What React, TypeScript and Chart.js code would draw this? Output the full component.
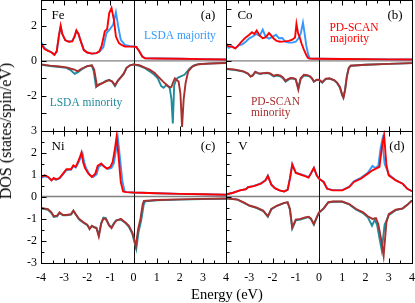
import React, { useEffect, useRef } from "react";
import { Chart, registerables } from "chart.js";

Chart.register(...registerables);

const SERIF = '"Liberation Serif", "Times New Roman", Times, serif';
const BLUE = "#3399ff";
const RED = "#ff0000";
const TEAL = "#1f8b9c";
const BROWN = "#a8302f";

// ---------- Fe (a) ----------
const feUpLsdaE = [-4, -3.85, -3.7, -3.55, -3.42, -3.32, -3.22, -3.15, -3.08, -2.95, -2.8, -2.65, -2.55, -2.47, -2.38, -2.28, -2.15, -2.0, -1.8, -1.6, -1.45, -1.3, -1.17, -1.02, -0.88, -0.76, -0.66, -0.55, -0.37, -0.15, 0, 0.12, 0.25, 0.38, 0.5, 1, 2, 3, 4];
const feUpLsda = [1.08, 0.75, 0.6, 0.5, 0.35, 0.55, 1.5, 1.98, 1.55, 1.2, 1.12, 1.15, 1.4, 1.72, 1.55, 1.15, 0.65, 0.48, 0.42, 0.45, 0.55, 0.8, 1.6, 1.83, 2.08, 2.8, 1.98, 1.21, 0.92, 0.85, 0.83, 0.8, 0.55, 0.25, 0.15, 0.14, 0.12, 0.1, 0.08];
const feUpScanE = [-4, -3.85, -3.7, -3.55, -3.42, -3.32, -3.22, -3.15, -3.08, -2.95, -2.8, -2.65, -2.55, -2.47, -2.38, -2.28, -2.15, -2.0, -1.8, -1.6, -1.48, -1.38, -1.24, -1.14, -1.05, -0.95, -0.85, -0.76, -0.63, -0.5, -0.37, -0.15, 0, 0.12, 0.25, 0.38, 0.5, 1, 2, 3, 4];
const feUpScan = [0.98, 0.68, 0.58, 0.5, 0.35, 0.55, 1.5, 2.02, 1.55, 1.18, 1.1, 1.12, 1.4, 1.75, 1.55, 1.12, 0.62, 0.48, 0.42, 0.45, 0.55, 0.85, 1.7, 1.83, 2.75, 3.04, 2.37, 1.4, 1.02, 0.9, 0.83, 0.82, 0.82, 0.8, 0.55, 0.25, 0.15, 0.14, 0.12, 0.1, 0.08];
const feDnLsdaE = [-4, -3.6, -3.2, -2.9, -2.7, -2.54, -2.4, -2.2, -2.0, -1.8, -1.72, -1.62, -1.5, -1.35, -1.2, -1.05, -0.92, -0.8, -0.68, -0.55, -0.42, -0.3, -0.15, 0, 0.25, 0.5, 0.7, 0.9, 1.05, 1.2, 1.3, 1.43, 1.57, 1.64, 1.7, 1.76, 1.85, 1.95, 2.2, 2.44, 2.65, 3.0, 3.5, 4];
const feDnLsda = [-0.22, -0.3, -0.35, -0.4, -0.55, -0.75, -0.65, -0.45, -0.3, -0.27, -0.6, -1.5, -1.35, -1.28, -1.15, -1.1, -1.2, -1.45, -1.15, -0.95, -0.75, -0.4, -0.25, -0.2, -0.28, -0.42, -0.6, -0.8, -1.0, -1.45, -1.55, -1.38, -1.58, -2.2, -3.6, -1.4, -1.05, -0.94, -0.8, -0.42, -0.23, -0.17, -0.14, -0.11];
const feDnScanE = [-4, -3.6, -3.2, -2.9, -2.7, -2.55, -2.42, -2.25, -2.0, -1.8, -1.7, -1.58, -1.45, -1.3, -1.15, -1.05, -0.92, -0.8, -0.68, -0.55, -0.42, -0.3, -0.15, 0, 0.25, 0.49, 0.7, 0.92, 1.1, 1.28, 1.45, 1.57, 1.64, 1.72, 1.79, 1.87, 1.95, 2.03, 2.1, 2.17, 2.25, 2.36, 2.54, 2.8, 3.3, 4];
const feDnScan = [-0.2, -0.27, -0.32, -0.37, -0.45, -0.5, -0.6, -0.45, -0.3, -0.25, -0.5, -1.45, -1.35, -1.25, -1.15, -1.1, -1.18, -1.4, -1.15, -0.95, -0.72, -0.4, -0.25, -0.2, -0.25, -0.38, -0.5, -0.7, -0.95, -1.19, -1.4, -1.52, -1.5, -1.2, -1.0, -1.1, -1.19, -1.9, -3.8, -2.2, -1.3, -0.62, -0.33, -0.19, -0.15, -0.12];

// ---------- Co (b) ----------
const coUpLsdaE = [-4, -3.88, -3.75, -3.6, -3.45, -3.3, -3.15, -3.0, -2.85, -2.7, -2.55, -2.42, -2.3, -2.15, -2.0, -1.85, -1.72, -1.58, -1.45, -1.3, -1.15, -1.0, -0.88, -0.78, -0.69, -0.62, -0.55, -0.47, -0.4, -0.3, 0, 1, 2, 3, 4];
const coUpLsda = [0.95, 0.75, 0.85, 0.72, 0.9, 0.95, 1.1, 1.3, 1.4, 1.55, 1.45, 1.8, 1.4, 1.28, 1.38, 1.5, 1.3, 1.32, 1.1, 1.05, 1.05, 1.1, 1.3, 1.6, 2.2, 1.6, 0.9, 0.4, 0.15, 0.12, 0.12, 0.11, 0.1, 0.09, 0.08];
const coUpScanE = [-4, -3.9, -3.75, -3.6, -3.45, -3.3, -3.15, -3.0, -2.88, -2.78, -2.68, -2.55, -2.42, -2.3, -2.15, -2.05, -1.95, -1.82, -1.68, -1.5, -1.3, -1.15, -1.03, -0.97, -0.9, -0.83, -0.75, -0.65, -0.55, -0.48, -0.42, 0, 1, 2, 3, 4];
const coUpScan = [1.0, 0.85, 0.82, 0.72, 0.92, 1.15, 1.35, 1.5, 1.65, 1.55, 1.75, 1.45, 1.3, 1.35, 1.6, 1.45, 1.28, 1.15, 1.1, 1.12, 1.15, 1.22, 1.35, 2.13, 1.6, 1.35, 1.0, 0.65, 0.35, 0.18, 0.13, 0.12, 0.11, 0.1, 0.09, 0.08];
const coDnE = [-4, -3.6, -3.25, -3.05, -2.95, -2.85, -2.74, -2.62, -2.52, -2.4, -2.23, -2.1, -1.95, -1.8, -1.66, -1.55, -1.44, -1.33, -1.22, -1.1, -1.0, -0.89, -0.79, -0.65, -0.5, -0.39, -0.3, -0.22, -0.1, 0, 0.14, 0.29, 0.45, 0.65, 0.78, 0.9, 1.0, 1.05, 1.12, 1.2, 1.28, 1.36, 2, 3, 4];
const coDnLsda = [-0.47, -0.52, -0.62, -0.75, -0.88, -0.82, -0.65, -0.72, -0.75, -0.72, -0.7, -0.75, -0.9, -0.85, -0.88, -1.0, -1.2, -1.1, -1.0, -1.02, -1.08, -1.55, -1.05, -0.85, -0.85, -0.9, -1.02, -1.2, -1.1, -1.1, -1.25, -1.05, -1.02, -1.12, -1.28, -1.55, -1.98, -2.1, -1.65, -0.85, -0.4, -0.28, -0.22, -0.17, -0.13];
const coDnScan = [-0.45, -0.5, -0.6, -0.72, -0.9, -0.85, -0.62, -0.7, -0.72, -0.7, -0.68, -0.72, -0.85, -0.8, -0.85, -0.95, -1.15, -1.05, -0.98, -1.0, -1.05, -1.65, -1.0, -0.8, -0.82, -0.88, -1.0, -1.18, -1.08, -1.08, -1.22, -1.02, -1.0, -1.1, -1.25, -1.5, -1.95, -2.12, -1.7, -0.9, -0.42, -0.28, -0.22, -0.17, -0.13];

// ---------- Ni (c) ----------
const niUpLsdaE = [-4, -3.85, -3.7, -3.55, -3.45, -3.35, -3.2, -3.05, -2.9, -2.7, -2.6, -2.5, -2.4, -2.27, -2.2, -2.13, -2.05, -1.9, -1.75, -1.6, -1.5, -1.35, -1.25, -1.1, -0.95, -0.85, -0.75, -0.68, -0.6, -0.48, -0.38, -0.3, 0, 1, 2, 3, 4];
const niUpLsda = [0.85, 0.92, 0.88, 0.75, 0.8, 0.76, 0.82, 1.0, 1.2, 1.22, 1.38, 1.32, 1.5, 1.8, 1.95, 1.55, 1.28, 1.0, 0.88, 1.0, 1.35, 1.45, 1.35, 1.25, 1.3, 1.5, 2.15, 2.7, 1.9, 0.7, 0.22, 0.2, 0.18, 0.15, 0.12, 0.1, 0.08];
const niUpScanE = [-4, -3.85, -3.7, -3.55, -3.45, -3.35, -3.2, -3.05, -2.9, -2.7, -2.6, -2.5, -2.4, -2.3, -2.25, -2.18, -2.1, -1.95, -1.8, -1.65, -1.55, -1.4, -1.3, -1.15, -1.0, -0.9, -0.8, -0.73, -0.65, -0.55, -0.45, -0.3, 0, 1, 2, 3, 4];
const niUpScan = [0.89, 0.96, 0.9, 0.73, 0.84, 0.78, 0.84, 1.04, 1.24, 1.24, 1.42, 1.35, 1.57, 1.85, 2.0, 1.57, 1.3, 1.04, 0.89, 1.04, 1.39, 1.5, 1.39, 1.27, 1.35, 1.57, 2.19, 2.72, 1.88, 0.66, 0.23, 0.2, 0.18, 0.15, 0.12, 0.1, 0.08];
const niDnLsdaE = [-4, -3.7, -3.55, -3.45, -3.3, -3.2, -3.05, -2.9, -2.7, -2.6, -2.5, -2.35, -2.15, -2.0, -1.9, -1.8, -1.7, -1.6, -1.5, -1.4, -1.3, -1.2, -1.05, -0.95, -0.85, -0.75, -0.55, -0.35, -0.2, -0.05, 0.12, 0.22, 0.33, 0.44, 0.5, 1, 2, 3, 4];
const niDnLsda = [-0.54, -0.6, -0.75, -0.93, -0.9, -0.75, -0.86, -0.86, -0.82, -0.67, -0.82, -1.05, -1.2, -1.3, -1.45, -1.35, -1.38, -1.42, -1.75, -1.22, -0.96, -0.98, -1.3, -1.4, -1.22, -1.08, -1.05, -1.2, -1.38, -1.7, -2.38, -1.6, -1.1, -0.38, -0.22, -0.17, -0.14, -0.12, -0.1];
const niDnScanE = [-4, -3.7, -3.55, -3.45, -3.3, -3.2, -3.05, -2.9, -2.7, -2.6, -2.5, -2.35, -2.15, -2.0, -1.9, -1.8, -1.7, -1.6, -1.5, -1.4, -1.3, -1.2, -1.05, -0.95, -0.85, -0.75, -0.55, -0.35, -0.2, -0.05, 0.1, 0.2, 0.3, 0.4, 0.45, 1, 2, 3, 4];
const niDnScan = [-0.52, -0.57, -0.72, -0.9, -0.87, -0.72, -0.84, -0.84, -0.8, -0.64, -0.8, -1.02, -1.18, -1.28, -1.48, -1.33, -1.4, -1.45, -1.82, -1.25, -1.0, -1.02, -1.33, -1.44, -1.25, -1.1, -1.02, -1.18, -1.33, -1.64, -2.25, -1.48, -1.02, -0.34, -0.2, -0.16, -0.13, -0.11, -0.09];

// ---------- V (d) ----------
const vUpLsdaE = [-4, -3.7, -3.4, -3.15, -3.05, -2.8, -2.5, -2.3, -2.2, -2.05, -1.9, -1.7, -1.5, -1.35, -1.25, -1.15, -1.0, -0.8, -0.6, -0.45, -0.35, -0.22, -0.1, 0, 0.2, 0.35, 0.6, 1.0, 1.3, 1.5, 1.8, 2.1, 2.3, 2.42, 2.55, 2.65, 2.72, 2.82, 3.0, 3.3, 3.6, 3.8, 4];
const vUpLsda = [0.09, 0.17, 0.28, 0.33, 0.43, 0.48, 0.6, 0.75, 0.95, 0.55, 0.38, 0.28, 0.23, 0.3, 0.83, 1.48, 1.1, 1.02, 0.95, 0.88, 1.05, 1.3, 0.97, 0.82, 0.66, 0.36, 0.29, 0.29, 0.45, 0.69, 0.85, 1.08, 1.39, 1.3, 1.4, 2.2, 2.57, 1.5, 1.0, 0.75, 0.58, 0.35, 0.24];
const vUpScanE = [-4, -3.7, -3.4, -3.15, -3.05, -2.8, -2.5, -2.3, -2.2, -2.05, -1.9, -1.7, -1.5, -1.35, -1.25, -1.15, -1.0, -0.8, -0.6, -0.45, -0.35, -0.22, -0.1, 0, 0.2, 0.35, 0.6, 1.0, 1.3, 1.5, 1.8, 2.1, 2.3, 2.45, 2.6, 2.7, 2.8, 2.9, 3.0, 3.3, 3.6, 3.8, 4];
const vUpScan = [0.09, 0.17, 0.28, 0.33, 0.42, 0.47, 0.58, 0.73, 0.93, 0.54, 0.38, 0.28, 0.23, 0.3, 0.81, 1.45, 1.07, 1.0, 0.93, 0.86, 1.04, 1.3, 0.96, 0.81, 0.66, 0.35, 0.28, 0.28, 0.43, 0.66, 0.81, 1.04, 1.19, 1.27, 1.35, 2.19, 2.8, 1.42, 0.96, 0.73, 0.58, 0.35, 0.24];
const vDnLsdaE = [-4, -3.5, -3.2, -3.0, -2.7, -2.4, -2.2, -2.05, -1.8, -1.5, -1.35, -1.25, -1.15, -1.0, -0.8, -0.6, -0.45, -0.35, -0.22, -0.1, 0, 0.2, 0.4, 0.6, 1.0, 1.3, 1.6, 1.9, 2.1, 2.28, 2.4, 2.5, 2.62, 2.7, 2.82, 3.0, 3.3, 3.6, 3.8, 4];
const vDnLsda = [-0.08, -0.14, -0.3, -0.42, -0.52, -0.66, -0.92, -0.58, -0.42, -0.3, -0.27, -0.6, -1.46, -1.08, -1.05, -0.98, -0.94, -1.02, -1.28, -0.97, -0.74, -0.55, -0.27, -0.24, -0.24, -0.36, -0.6, -0.76, -0.95, -1.33, -1.05, -1.3, -2.0, -2.45, -1.3, -0.85, -0.62, -0.55, -0.38, -0.18];
const vDnScanE = [-4, -3.5, -3.2, -3.0, -2.7, -2.4, -2.2, -2.05, -1.8, -1.5, -1.35, -1.25, -1.15, -1.0, -0.8, -0.6, -0.45, -0.35, -0.22, -0.1, 0, 0.2, 0.4, 0.6, 1.0, 1.3, 1.6, 1.9, 2.1, 2.3, 2.45, 2.55, 2.7, 2.78, 2.9, 3.0, 3.3, 3.6, 3.8, 4];
const vDnScan = [-0.08, -0.14, -0.29, -0.41, -0.5, -0.64, -0.9, -0.57, -0.41, -0.29, -0.26, -0.57, -1.41, -1.05, -1.02, -0.95, -0.92, -1.0, -1.25, -0.95, -0.72, -0.54, -0.26, -0.23, -0.23, -0.34, -0.57, -0.72, -0.9, -1.02, -0.98, -1.25, -2.1, -2.7, -1.18, -0.8, -0.6, -0.54, -0.38, -0.18];

// ---------- axis ranges and tick labels ----------
const energyRange = [-4, 4];
const topDosRange = [-4, 3.5];
const bottomDosRange = [-3, 3];
const topYLabels = [2, 0, -2];
const bottomYLabels = [3, 2, 1, 0, -1, -2, -3];
const leftXLabels = [-4, -3, -2, -1, 0, 1, 2, 3, 4];
const rightXLabels = [-3, -2, -1, 0, 1, 2, 3, 4];

const W = 415;
const H = 303;

type Series = { e: number[]; d: number[]; color: string };
type Note = { text: string; fx: number; fy: number; color: string; size: number; align: CanvasTextAlign };
type PanelDef = {
  id: string;
  left: number; top: number; right: number; bottom: number;
  yRange: number[];
  yLabels: number[] | null;
  xLabels: number[] | null;
  yTickStep: number;
  series: Series[]; // listed bottom-most first
  notes: Note[];
};

const tag = (text: string, fx: number, fy: number): Note => ({ text, fx, fy, color: "#000", size: 13, align: "center" });

const PANELS: PanelDef[] = [
  {
    id: "a", left: 41, top: 0, right: 226, bottom: 130.5, yRange: topDosRange, yLabels: topYLabels, xLabels: null, yTickStep: 1,
    series: [
      { e: feUpLsdaE, d: feUpLsda, color: BLUE },
      { e: feUpScanE, d: feUpScan, color: RED },
      { e: feDnLsdaE, d: feDnLsda, color: TEAL },
      { e: feDnScanE, d: feDnScan, color: BROWN },
    ],
    notes: [
      tag("Fe", 0.092, 0.119),
      tag("(a)", 0.903, 0.119),
      { text: "LSDA majority", fx: 0.751, fy: 0.272, color: BLUE, size: 11.5, align: "center" },
      { text: "LSDA minority", fx: 0.243, fy: 0.789, color: TEAL, size: 11.5, align: "center" },
    ],
  },
  {
    id: "b", left: 226, top: 0, right: 412, bottom: 130.5, yRange: topDosRange, yLabels: null, xLabels: null, yTickStep: 1,
    series: [
      { e: coUpLsdaE, d: coUpLsda, color: BLUE },
      { e: coUpScanE, d: coUpScan, color: RED },
      { e: coDnE, d: coDnLsda, color: TEAL },
      { e: coDnE, d: coDnScan, color: BROWN },
    ],
    notes: [
      tag("Co", 0.102, 0.119),
      tag("(b)", 0.909, 0.119),
      { text: "PD-SCAN", fx: 0.556, fy: 0.211, color: RED, size: 11.5, align: "left" },
      { text: "majority", fx: 0.559, fy: 0.299, color: RED, size: 11.5, align: "left" },
      { text: "PD-SCAN", fx: 0.134, fy: 0.778, color: BROWN, size: 11.5, align: "left" },
      { text: "minority", fx: 0.134, fy: 0.862, color: BROWN, size: 11.5, align: "left" },
    ],
  },
  {
    id: "c", left: 41, top: 130.5, right: 226, bottom: 262.5, yRange: bottomDosRange, yLabels: bottomYLabels, xLabels: leftXLabels, yTickStep: 0.5,
    series: [
      { e: niUpLsdaE, d: niUpLsda, color: BLUE },
      { e: niUpScanE, d: niUpScan, color: RED },
      { e: niDnLsdaE, d: niDnLsda, color: TEAL },
      { e: niDnScanE, d: niDnScan, color: BROWN },
    ],
    notes: [tag("Ni", 0.092, 0.121), tag("(c)", 0.903, 0.121)],
  },
  {
    id: "d", left: 226, top: 130.5, right: 412, bottom: 262.5, yRange: bottomDosRange, yLabels: null, xLabels: rightXLabels, yTickStep: 0.5,
    series: [
      { e: vUpLsdaE, d: vUpLsda, color: BLUE },
      { e: vUpScanE, d: vUpScan, color: RED },
      { e: vDnLsdaE, d: vDnLsda, color: TEAL },
      { e: vDnScanE, d: vDnScan, color: BROWN },
    ],
    notes: [tag("V", 0.091, 0.121), tag("(d)", 0.919, 0.121)],
  },
];

function panelPlugin(p: PanelDef) {
  return {
    id: "panel-" + p.id,
    beforeDatasetsDraw(chart: any) {
      const { ctx, chartArea: a, scales } = chart;
      ctx.save();
      const y0 = scales.y.getPixelForValue(0);
      ctx.strokeStyle = "#808080";
      ctx.lineWidth = 1.3;
      ctx.beginPath();
      ctx.moveTo(a.left, y0);
      ctx.lineTo(a.right, y0);
      ctx.stroke();
      const x0 = Math.round(scales.x.getPixelForValue(0)) + 0.5;
      ctx.strokeStyle = "#111";
      ctx.lineWidth = 1;
      ctx.beginPath();
      ctx.moveTo(x0, a.top);
      ctx.lineTo(x0, a.bottom);
      ctx.stroke();
      ctx.restore();
    },
    afterDatasetsDraw(chart: any) {
      const { ctx, chartArea: a, scales } = chart;
      ctx.save();
      ctx.strokeStyle = "#000";
      ctx.lineWidth = 1;
      const L = Math.round(a.left) + 0.5;
      const R = Math.round(a.right) + 0.5;
      const T = Math.round(a.top) + 0.5;
      const B = Math.round(a.bottom) + 0.5;
      ctx.strokeRect(L, T, R - L, B - T);
      ctx.beginPath();
      const [xmin, xmax] = energyRange;
      for (let v = xmin + 0.5; v < xmax; v += 0.5) {
        const len = Number.isInteger(v) ? 5 : 3;
        const px = Math.round(scales.x.getPixelForValue(v)) + 0.5;
        ctx.moveTo(px, B);
        ctx.lineTo(px, B - len);
        ctx.moveTo(px, T);
        ctx.lineTo(px, T + len);
      }
      const [ymin, ymax] = p.yRange;
      for (let v = ymin + p.yTickStep; v < ymax; v += p.yTickStep) {
        const len = Number.isInteger(v) ? 5 : 3;
        const py = Math.round(scales.y.getPixelForValue(v)) + 0.5;
        ctx.moveTo(L, py);
        ctx.lineTo(L + len, py);
      }
      ctx.stroke();
      ctx.restore();
    },
    afterDraw(chart: any) {
      const { ctx, chartArea: a } = chart;
      ctx.save();
      ctx.textBaseline = "middle";
      for (const n of p.notes) {
        ctx.font = `${n.size}px ${SERIF}`;
        ctx.fillStyle = n.color;
        ctx.textAlign = n.align;
        ctx.fillText(n.text, a.left + n.fx * (a.right - a.left), a.top + n.fy * (a.bottom - a.top));
      }
      ctx.restore();
    },
  };
}

function makeConfig(p: PanelDef) {
  const showY = !!p.yLabels;
  const showX = !!p.xLabels;
  const tickFont = { family: SERIF, size: 12 };
  // Chart.js paints dataset 0 on top, so hand them over top-most first.
  const painted = [...p.series].reverse();
  return {
    type: "line",
    data: {
      datasets: painted.map((s) => ({
        data: s.e.map((x, i) => ({ x, y: s.d[i] })),
        borderColor: s.color,
        backgroundColor: s.color,
        borderWidth: 1.9,
        pointRadius: 0,
        tension: 0,
        fill: false,
        clip: 0,
      })),
    },
    options: {
      animation: false,
      responsive: false,
      devicePixelRatio: 1,
      events: [],
      layout: {
        autoPadding: false,
        padding: {
          left: showY ? 0 : p.left,
          right: W - p.right,
          top: p.top,
          bottom: showX ? 0 : H - p.bottom,
        },
      },
      plugins: { legend: { display: false }, tooltip: { enabled: false }, title: { display: false } },
      scales: {
        x: {
          type: "linear",
          min: energyRange[0],
          max: energyRange[1],
          grid: { display: false, drawTicks: false },
          border: { display: false },
          ticks: {
            display: showX,
            stepSize: 1,
            autoSkip: false,
            maxRotation: 0,
            padding: 8,
            color: "#000",
            font: tickFont,
            callback: (v: number) => (p.xLabels && p.xLabels.includes(v) ? String(v) : ""),
          },
          afterFit: (s: any) => {
            s.height = showX ? H - p.bottom : 0;
            s.paddingLeft = 0;
            s.paddingRight = 0;
          },
        },
        y: {
          type: "linear",
          min: p.yRange[0],
          max: p.yRange[1],
          grid: { display: false, drawTicks: false },
          border: { display: false },
          ticks: {
            display: showY,
            stepSize: 1,
            includeBounds: false,
            autoSkip: false,
            padding: 4,
            color: "#000",
            font: tickFont,
            callback: (v: number) => (p.yLabels && p.yLabels.includes(v) ? String(v) : ""),
          },
          afterFit: (s: any) => {
            s.width = showY ? p.left : 0;
            s.paddingTop = 0;
            s.paddingBottom = 0;
          },
        },
      },
    },
    plugins: [panelPlugin(p)],
  };
}

function Panel({ def }: { def: PanelDef }) {
  const ref = useRef<HTMLCanvasElement>(null);
  useEffect(() => {
    const chart = new Chart(ref.current as HTMLCanvasElement, makeConfig(def) as any);
    return () => chart.destroy();
  }, [def]);
  return (
    <canvas
      ref={ref}
      width={W}
      height={H}
      style={{ position: "absolute", left: 0, top: 0, width: W, height: H }}
    />
  );
}

export default function App() {
  return (
    <div style={{ position: "fixed", left: 0, top: 0, width: W, height: H, background: "#fff", overflow: "hidden" }}>
      {PANELS.map((p) => (
        <Panel key={p.id} def={p} />
      ))}
      <div
        style={{
          position: "absolute",
          left: 6,
          top: 130.5,
          transform: "translate(-50%, -50%) rotate(-90deg)",
          fontFamily: SERIF,
          fontSize: 16,
          lineHeight: 1,
          whiteSpace: "nowrap",
          color: "#000",
        }}
      >
        DOS (states/spin/eV)
      </div>
      <div
        style={{
          position: "absolute",
          left: 227,
          top: 294,
          transform: "translate(-50%, -50%)",
          fontFamily: SERIF,
          fontSize: 14.5,
          lineHeight: 1,
          whiteSpace: "nowrap",
          color: "#000",
        }}
      >
        Energy (eV)
      </div>
    </div>
  );
}
